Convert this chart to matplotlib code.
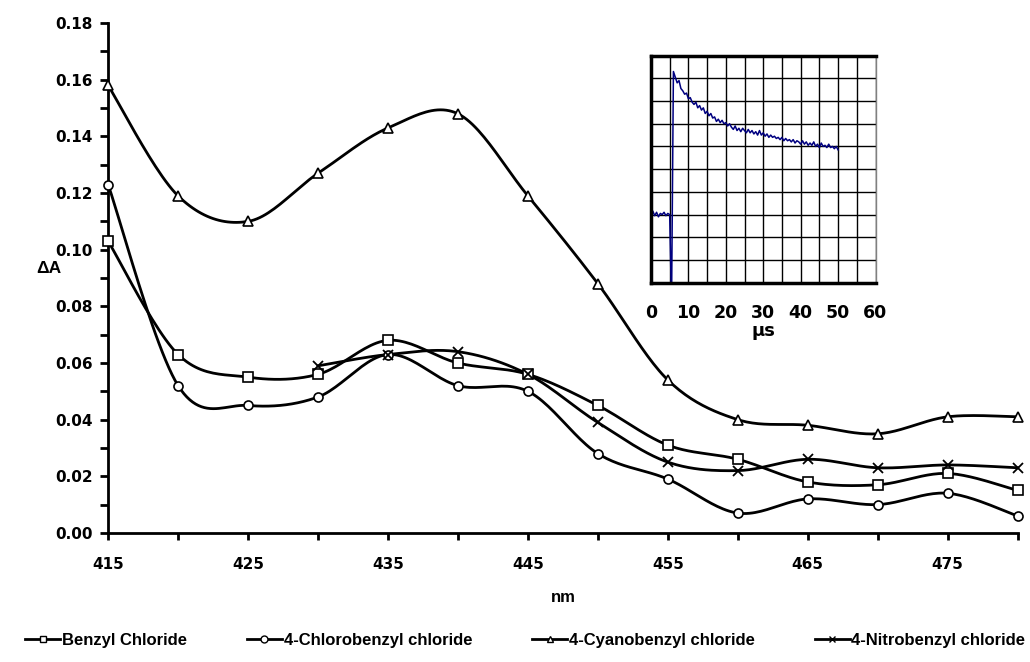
import matplotlib
matplotlib.use('Agg')
import matplotlib.pyplot as plt
import numpy as np

# wavelength (nm)
wavelength = [415, 420, 425, 430, 435, 440, 445, 450, 455, 460, 465, 470, 475, 480]

benzyl = [0.103, 0.063, 0.055, 0.056, 0.068, 0.060, 0.056, 0.045, 0.031, 0.026, 0.018, 0.017, 0.021, 0.015]
chloro = [0.123, 0.052, 0.045, 0.048, 0.063, 0.052, 0.050, 0.028, 0.019, 0.007, 0.012, 0.010, 0.014, 0.006]
cyano = [0.158, 0.119, 0.110, 0.127, 0.143, 0.148, 0.119, 0.088, 0.054, 0.040, 0.038, 0.035, 0.041, 0.041]
nitro_wl = [430, 435, 440, 445, 450, 455, 460, 465, 470, 475, 480]
nitro = [0.059, 0.063, 0.064, 0.056, 0.039, 0.025, 0.022, 0.026, 0.023, 0.024, 0.023]

labels = ['Benzyl Chloride', '4-Chlorobenzyl chloride',
          '4-Cyanobenzyl chloride', '4-Nitrobenzyl chloride']

# inset kinetic trace, one reading every 0.5 us
trace_step = 0.5
trace = [2.85, 3.15, 2.95, 3.1, 2.9, 3.05, 3.0, 3.1, 2.95, 3.05,
         3.0, -1.0, 9.3, 9.05, 8.8, 8.9, 8.55, 8.45, 8.3, 8.35,
         8.1, 8.15, 7.95, 7.85, 7.95, 7.7, 7.8, 7.6, 7.7, 7.45,
         7.55, 7.35, 7.45, 7.25, 7.3, 7.1, 7.2, 7.05, 7.15, 7.0,
         7.05, 6.9, 7.0, 6.85, 6.75, 6.9, 6.7, 6.8, 6.65, 6.8,
         6.7, 6.6, 6.75, 6.6, 6.7, 6.55, 6.65, 6.5, 6.7, 6.5,
         6.6, 6.45, 6.55, 6.4, 6.5, 6.4, 6.45, 6.35, 6.4, 6.3,
         6.4, 6.25, 6.35, 6.25, 6.3, 6.2, 6.3, 6.15, 6.25, 6.2,
         6.1, 6.25, 6.1, 6.2, 6.05, 6.15, 6.05, 6.2, 6.0, 6.1,
         5.95, 6.15, 6.0, 6.05, 5.95, 6.1, 5.95, 6.0, 5.9, 6.0,
         5.85]


def smooth(x, y, n=24):
    # catmull-rom, like the "smoothed line" option of a spreadsheet
    pts = np.column_stack([x, y]).astype(float)
    P = np.vstack([pts[0], pts, pts[-1]])
    out = []
    t = np.linspace(0, 1, n, endpoint=False)[:, None]
    for i in range(1, len(P) - 2):
        p0, p1, p2, p3 = P[i - 1], P[i], P[i + 1], P[i + 2]
        seg = 0.5 * (2 * p1 + (-p0 + p2) * t
                     + (2 * p0 - 5 * p1 + 4 * p2 - p3) * t ** 2
                     + (-p0 + 3 * p1 - 3 * p2 + p3) * t ** 3)
        out.append(seg)
    out.append(pts[-1:])
    return np.vstack(out)


fig = plt.figure(figsize=(10.3, 6.62), dpi=100)
ax = fig.add_axes([0.105, 0.195, 0.883, 0.77])

series = [(wavelength, benzyl, 's'), (wavelength, chloro, 'o'),
          (wavelength, cyano, '^'), (nitro_wl, nitro, 'x')]
handles = []
for (xs, ys, m), lab in zip(series, labels):
    c = smooth(xs, ys)
    ax.plot(c[:, 0], c[:, 1], color='black', lw=2, clip_on=False, zorder=2)
    ax.plot(xs, ys, ls='none', marker=m, ms=6.5, mfc='white', mec='black',
            mew=1.2 if m != 'x' else 1.3, clip_on=False, zorder=3)
    h, = ax.plot([], [], color='black', lw=2, marker=m, ms=5, mfc='white',
                 mec='black', mew=1.0, label=lab)
    handles.append(h)

ax.set_xlim(415, 480)
ax.set_ylim(0, 0.18)
for s in ['top', 'right']:
    ax.spines[s].set_visible(False)
for s in ['left', 'bottom']:
    ax.spines[s].set_linewidth(2)

tick_font = dict(family='DejaVu Sans', weight='bold', size=11)
ax.set_xticks(np.arange(415, 476, 10))
ax.set_xticks(np.arange(420, 481, 10), minor=True)
ax.set_xticklabels([str(v) for v in range(415, 476, 10)], fontdict=tick_font)
ax.set_yticks(np.arange(0, 0.181, 0.02))
ax.set_yticks(np.arange(0.01, 0.18, 0.02), minor=True)
ax.set_yticklabels(['%.2f' % v for v in np.arange(0, 0.181, 0.02)], fontdict=tick_font)
ax.tick_params(axis='x', which='both', direction='out', length=5, width=2, pad=12)
ax.tick_params(axis='y', which='both', direction='out', length=6, width=2, pad=5)

fig.text(0.047, 0.595, 'ΔA', ha='center', va='center', fontsize=12.5,
         fontweight='bold', family='Liberation Sans')
fig.text(0.547, 0.097, 'nm', ha='center', va='center', fontsize=12,
         fontweight='bold', family='Liberation Sans')

fig.legend(handles=handles, loc='center', bbox_to_anchor=(0.51, 0.032), ncol=4,
           frameon=False, handlelength=2.1, handletextpad=0.1, columnspacing=3.6,
           prop=dict(family='Liberation Sans', weight='bold', size=12))

# inset
ins = fig.add_axes([0.632, 0.573, 0.218, 0.343])
t = np.arange(len(trace)) * trace_step
ins.plot(t, trace, color='#000080', lw=1.1)
ins.set_xlim(0, 60)
ins.set_ylim(0, 10)
ins.set_xticks(np.arange(0, 61, 10))
ins.set_xticks(np.arange(5, 60, 10), minor=True)
ins.set_yticks(np.arange(0, 11, 1))
ins.set_yticklabels([])
ins.set_xticklabels([str(v) for v in range(0, 61, 10)],
                    fontdict=dict(family='DejaVu Sans', weight='bold', size=12.5))
ins.tick_params(which='both', length=0, pad=15)
ins.grid(True, which='both', color='black', lw=1)
for s in ['left', 'top', 'bottom']:
    ins.spines[s].set_linewidth(2.5)
ins.spines['right'].set_linewidth(1)
ins.spines['right'].set_color('0.5')
ins.set_xlabel('µs', fontsize=13, fontweight='bold', family='DejaVu Sans', labelpad=0)

fig.savefig('out.png', dpi=100)
